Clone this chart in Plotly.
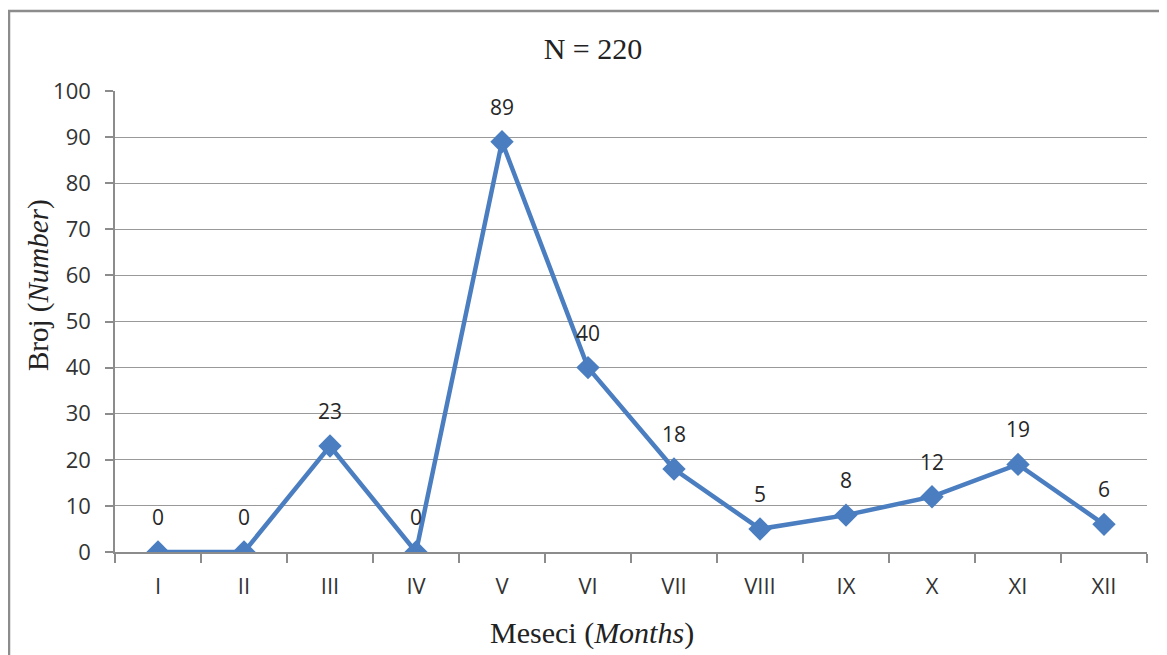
import plotly.graph_objects as go

months = ["I", "II", "III", "IV", "V", "VI", "VII", "VIII", "IX", "X", "XI", "XII"]
counts = [0, 0, 23, 0, 89, 40, 18, 5, 8, 12, 19, 6]
y_ticks = [0, 10, 20, 30, 40, 50, 60, 70, 80, 90, 100]

BLUE = "#4A7EC0"
OFF = 8  # default page body margin
W, H = 1167 - OFF, 655 - OFF
L, R, T, B = 115 - OFF, 20, 91 - OFF, 103

fig = go.Figure()
fig.add_trace(go.Scatter(
    x=months, y=counts, mode="lines+markers",
    line=dict(color=BLUE, width=4.5),
    marker=dict(symbol="diamond", size=18, color=BLUE),
    showlegend=False, hoverinfo="skip",
))

for m, v in zip(months, counts):
    fig.add_annotation(x=m, y=v, text=str(v), showarrow=False, yshift=35,
                       font=dict(family="Open Sans", size=21, color="#262626"))

pw, ph = W - L - R, H - T - B
fig.add_shape(type="rect", xref="paper", yref="paper",
              x0=(9 - OFF - L) / pw, x1=1.2, y0=-0.5, y1=(H - B - (11 - OFF)) / ph,
              line=dict(color="#8c8c8c", width=2.5), fillcolor="rgba(0,0,0,0)", layer="below")

serif = dict(family="Liberation Serif", size=30, color="#222")
# axis titles (centred over the whole chart area, as in the reference)
fig.add_annotation(text="Meseci (<i>Months</i>)", xref="paper", yref="paper",
                   x=(592 - 115) / pw, y=(552 - 633) / ph, xanchor="center", yanchor="middle",
                   showarrow=False, font=serif)
fig.add_annotation(text="Broj (<i>Number</i>)", xref="paper", yref="paper",
                   x=(38 - 115) / pw, y=(552 - 285) / ph, xanchor="center", yanchor="middle",
                   textangle=-90, showarrow=False, font=dict(serif, size=29))

fig.update_layout(
    width=W, height=H,
    margin=dict(l=L, r=R, t=T, b=B),
    paper_bgcolor="white", plot_bgcolor="white",
    title=dict(text="N = 220", x=(593 - OFF - L) / pw, xref="paper", xanchor="center",
               y=1 - (48 - OFF) / H, yanchor="middle", font=serif),
    xaxis=dict(
        type="category", range=[-0.5, 11.5],
        showgrid=False, showline=True, linecolor="#8c8c8c", linewidth=1.5,
        ticks="outside", ticklen=9, tickcolor="#8c8c8c", tickwidth=1.5,
        tickson="boundaries", ticklabelstandoff=14,
        tickfont=dict(family="Open Sans", size=22, color="#333"),
    ),
    yaxis=dict(
        range=[0, 100], tickvals=y_ticks, ticktext=[str(t) for t in y_ticks],
        showgrid=True, gridcolor="#999999", gridwidth=1.4,
        showline=True, linecolor="#8c8c8c", linewidth=1.5,
        ticks="outside", ticklen=8, tickcolor="#8c8c8c", tickwidth=1.5,
        zeroline=False, ticklabelstandoff=10,
        tickfont=dict(family="Open Sans", size=22, color="#333"),
    ),
)

fig.write_html("out.html")
